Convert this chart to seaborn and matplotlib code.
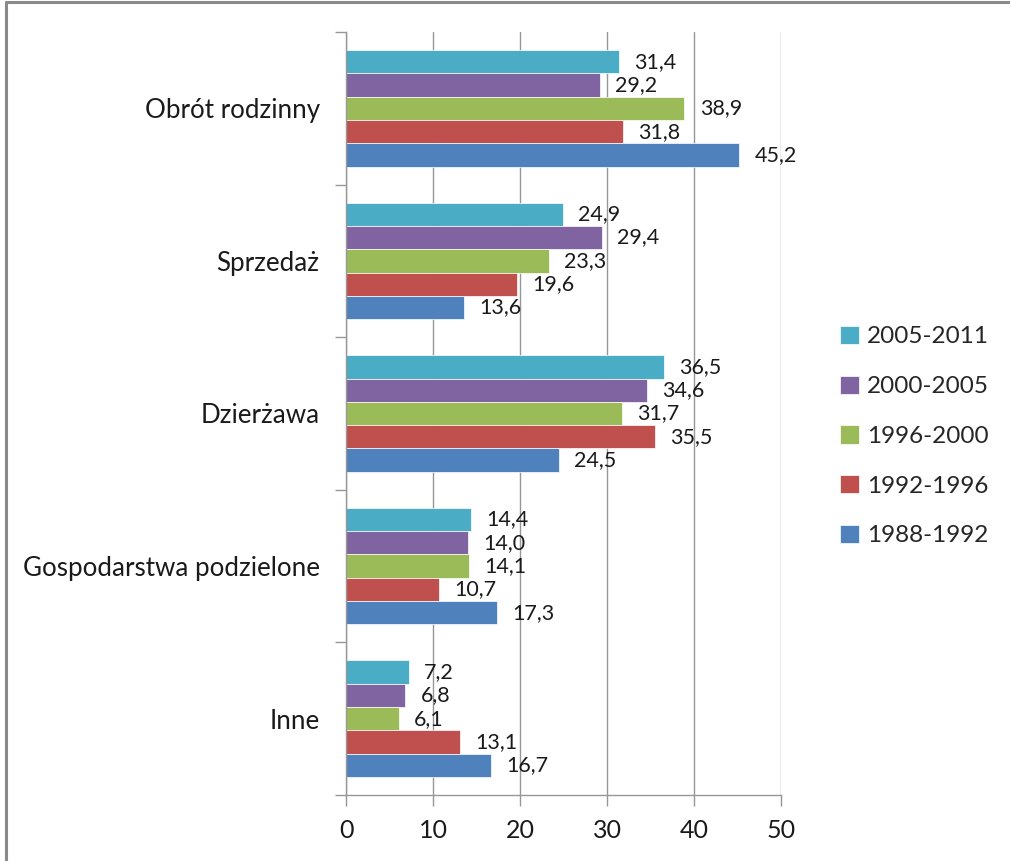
import matplotlib
matplotlib.use("Agg")
import matplotlib.pyplot as plt
from matplotlib.lines import Line2D
import seaborn as sns
import pandas as pd

# Sources of land acquisition, share in % by period
categories = ["Obrót rodzinny", "Sprzedaż", "Dzierżawa", "Gospodarstwa podzielone", "Inne"]
periods = ["2005-2011", "2000-2005", "1996-2000", "1992-1996", "1988-1992"]
values = {
    "2005-2011": [31.4, 24.9, 36.5, 14.4, 7.2],
    "2000-2005": [29.2, 29.4, 34.6, 14.0, 6.8],
    "1996-2000": [38.9, 23.3, 31.7, 14.1, 6.1],
    "1992-1996": [31.8, 19.6, 35.5, 10.7, 13.1],
    "1988-1992": [45.2, 13.6, 24.5, 17.3, 16.7],
}
x_ticks = [0, 10, 20, 30, 40, 50]

colors = ["#4BACC6", "#8064A2", "#9BBB59", "#C0504D", "#4F81BD"]

rows = []
for p in periods:
    for c, v in zip(categories, values[p]):
        rows.append({"kategoria": c, "okres": p, "wartosc": v})
df = pd.DataFrame(rows)

sns.set_style("white")
plt.rcParams["font.family"] = ["Lato", "DejaVu Sans"]

fig = plt.figure(figsize=(10.10, 8.61), dpi=100)
ax = fig.add_axes([0.3426, 0.0767, 0.4307, 0.8861])

sns.barplot(
    data=df, y="kategoria", x="wartosc", hue="okres",
    order=categories, hue_order=periods, palette=colors,
    orient="h", width=0.764, gap=0, saturation=1,
    edgecolor="white", linewidth=0.5, ax=ax, legend=True,
)

for container in ax.containers:
    ax.bar_label(container, labels=[f"{b.get_width():.1f}".replace(".", ",") for b in container],
                 padding=11, fontsize=15.5, color="#1a1a1a")

ax.set_xlim(0, 50)
ax.set_xticks(x_ticks)
ax.set_xticklabels([str(t) for t in x_ticks])
ax.set_ylim(4.5, -0.5)
ax.set_xlabel("")
ax.set_ylabel("")

grid_c = "#979797"
ax.grid(axis="x", color=grid_c, linewidth=1.0)
ax.grid(axis="y", visible=False)
ax.set_axisbelow(True)
for s in ["top", "right"]:
    ax.spines[s].set_visible(False)
for s in ["left", "bottom"]:
    ax.spines[s].set_color(grid_c)
    ax.spines[s].set_linewidth(1.0)

ax.tick_params(axis="x", which="major", length=8, color=grid_c, width=1.0,
               labelsize=18, labelcolor="#1a1a1a", pad=9, direction="out", bottom=True)
ax.tick_params(axis="y", which="major", length=0, labelsize=18.7, labelcolor="#1a1a1a", pad=19)
ax.set_yticks([i + 0.5 for i in range(-1, len(categories))], minor=True)
ax.tick_params(axis="y", which="minor", length=8, color=grid_c, width=1.0, left=True)

handles, labels = ax.get_legend_handles_labels()
ax.legend_.remove()
fig.legend(handles, labels, loc="center left", bbox_to_anchor=(0.8225, 0.4935),
           frameon=False, fontsize=17.5, handlelength=0.78, handleheight=0.78,
           handletextpad=0.3, labelspacing=1.16, borderaxespad=0)

# chart frame
fig.add_artist(Line2D([0.006, 1.0], [0.9976, 0.9976], color="#8a8a8a", linewidth=2.2,
                      transform=fig.transFigure))
fig.add_artist(Line2D([0.006, 0.006], [0.0, 0.9976], color="#8a8a8a", linewidth=2.2,
                      transform=fig.transFigure))

fig.savefig("out.png", dpi=100, facecolor="white")
